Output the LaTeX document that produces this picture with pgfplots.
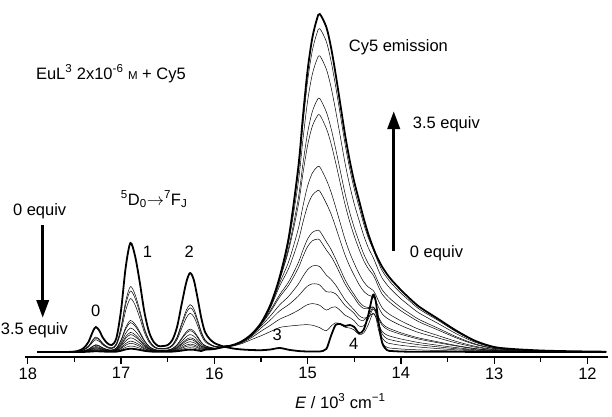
\documentclass[border=0pt]{standalone}
\usepackage{pgfplots}
\pgfplotsset{compat=1.18}
\usepackage{pgfplotstable}
\usepackage{fontspec}
\setmainfont{Liberation Sans}
\usetikzlibrary{arrows.meta}

% x = E / 10^3 cm^-1 ; T0 = 0 equiv (thick), c1..c12 = intermediate titration spectra, T35 = 3.5 equiv (thick)
\pgfplotstableread{
x T0 c1 c2 c3 c4 c5 c6 c7 c8 c9 c10 c11 c12 T35
17.9 0 0 0 0 0 0 0 0 0 0 0 0 0 0
17.6 0 0 0 0 0 0 0 0 0 0 0 0 0 0
17.5 0.5 0.3 0.3 0.2 0.1 0.1 0.1 0.1 0.1 0.1 0.1 0 0 0
17.45 1.5 0.9 0.8 0.7 0.4 0.4 0.3 0.3 0.2 0.2 0.2 0.1 0.1 0
17.4 4 2.4 2.2 2.0 1.2 1.1 0.9 0.7 0.6 0.5 0.4 0.3 0.2 0.1
17.35 10 6 5.6 4.9 2.9 2.7 2.2 1.8 1.6 1.3 1 0.8 0.6 0.3
17.3 21 12.6 11.8 10.3 6.1 5.7 4.6 3.8 3.4 2.7 2.1 1.7 1.2 0.6
17.27 25 15 14 12.3 7.3 6.8 5.5 4.5 4 3.3 2.5 2 1.4 0.8
17.23 21 12.6 11.8 10.3 6.1 5.7 4.6 3.8 3.4 2.7 2.1 1.7 1.2 0.6
17.2 15 9 8.4 7.4 4.4 4.1 3.3 2.7 2.4 2 1.5 1.2 0.8 0.5
17.15 9 5.4 5 4.4 2.6 2.4 2 1.6 1.4 1.2 0.9 0.7 0.5 0.3
17.1 7 4.2 3.9 3.4 2 1.9 1.5 1.3 1.1 0.9 0.7 0.6 0.4 0.2
17.05 14 8.4 7.8 6.9 4.1 3.8 3.1 2.5 2.2 1.8 1.4 1.1 0.8 0.4
17.0 42 25.2 23.5 20.6 12.2 11.3 9.2 7.6 6.7 5.5 4.2 3.4 2.3 1.3
16.95 85 51 47.6 41.7 24.7 23 18.7 15.3 13.6 11.1 8.5 6.8 4.7 2.6
16.9 109 65.4 61 53.4 31.6 29.4 24 19.6 17.4 14.2 10.9 8.7 6 3.3
16.85 96 57.6 53.8 47 27.8 25.9 21.1 17.3 15.4 12.5 9.6 7.7 5.3 2.9
16.8 70 42 39.2 34.3 20.3 18.9 15.4 12.6 11.2 9.1 7 5.6 3.9 2.1
16.75 40 24 22.4 19.6 11.6 10.8 8.8 7.2 6.4 5.2 4 3.2 2.2 1.2
16.7 20 12 11.2 9.8 5.8 5.4 4.4 3.6 3.2 2.6 2 1.6 1.1 0.6
16.65 10 6 5.6 4.9 2.9 2.7 2.2 1.8 1.6 1.3 1 0.8 0.6 0.3
16.6 6 3.6 3.4 2.9 1.7 1.6 1.3 1.1 1 0.8 0.6 0.5 0.3 0.2
16.55 6 3.6 3.4 2.9 1.7 1.6 1.3 1.1 1 0.8 0.6 0.5 0.3 0.2
16.5 7 4.2 3.9 3.4 2 1.9 1.5 1.3 1.1 0.9 0.7 0.6 0.4 0.2
16.45 12 7.2 6.7 5.9 3.5 3.2 2.6 2.2 1.9 1.6 1.2 1 0.7 0.4
16.4 25 15 14 12.3 7.3 6.8 5.5 4.5 4 3.3 2.5 2 1.4 0.8
16.35 48 28.8 26.9 23.5 13.9 13 10.6 8.6 7.7 6.2 4.8 3.8 2.6 1.4
16.3 70 42 39.2 34.3 20.3 18.9 15.4 12.6 11.2 9.1 7 5.6 3.9 2.1
16.26 79 47.4 44.2 38.7 22.9 21.3 17.4 14.2 12.6 10.3 7.9 6.3 4.3 2.4
16.22 72 43.2 40.3 35.3 20.9 19.4 15.8 13 11.5 9.4 7.2 5.8 4 2.2
16.18 54 32.4 30.2 26.5 15.7 14.6 11.9 9.7 8.6 7 5.4 4.3 3 1.6
16.14 34 20.4 19 16.7 9.9 9.2 7.5 6.1 5.4 4.4 3.4 2.7 1.9 1
16.1 20 12.3 11.6 10.3 6.5 6.3 5.4 4.8 4.5 4.1 3.5 3.2 2.8 2.3
16.05 13 8.2 7.9 7.2 4.8 4.7 4.2 3.8 3.7 3.6 3.2 3.1 2.9 2.6
16.0 9 5.9 5.8 5.4 3.8 3.9 3.6 3.5 3.5 3.6 3.3 3.3 3.2 3.0
15.95 7 5.1 5.2 5.1 4 4.3 4 4.3 4.3 4.4 4.3 4.3 4.1 3.9
15.9 5.5 4.9 5.3 5.5 4.9 5.3 5.2 5.6 5.7 5.9 5.7 5.6 5.4 5.0
15.8 3.5 6.0 6.4 6.7 6.8 7.0 7.0 7.1 7.1 7.1 7.1 7.0 7.0 7.0
15.7 2.5 8.6 9.4 10.0 10.3 10.6 10.7 10.8 10.9 10.9 10.9 10.9 11 11
15.6 2 12.5 14.5 15.8 16.5 17 17.2 17.4 17.5 17.6 17.7 17.8 17.9 18
15.5 1.8 16.2 20.8 24 26 27.3 27.6 28 28.2 28.4 28.6 28.8 28.9 29
15.4 2.5 20.4 26.6 32 36 40 41.5 44 45 45.6 46 46.4 46.8 47
15.3 4 24.5 32.8 41.1 47.1 55 57.3 66 69 72 73 74 74.5 75
15.2 2.2 25.9 36.9 47.6 56.1 67.2 70.7 84.3 91.3 103 105.8 111.5 114.5 116
15.1 1 26.8 41.7 55.9 67.9 84 89.3 111.1 123.3 146.9 153.7 169.9 179.8 185
15.05 0.7 27.2 44.8 61.3 75.7 95.5 102 129.9 146 178.7 188.5 212.8 227.9 236
15.0 0.5 27.3 47.4 66 82.4 105.5 113.1 146.4 166.1 206.9 219.5 251.2 271.2 282
14.95 0.5 26.8 48.4 68.2 86 111.2 119.6 156.7 178.9 225.7 240.3 277.7 301.3 314
14.9 0.5 25.4 47.7 68 86.4 112.8 121.6 161 184.7 235.4 251.5 292.6 318.8 333
14.87 0.5 24.3 46.7 67 85.4 112 120.9 160.9 185.1 237.1 253.6 296.2 323.4 338
14.8 3 21.2 41.9 60.3 77 102.1 110.4 148.7 172.3 223.7 240.1 283 310.5 325
14.75 16 25.8 44.2 60.1 72.7 95.8 102.8 138.3 160.2 208.8 224.1 265.2 291.4 305
14.7 27 29.2 45.1 58.2 67 87.5 93.2 125.1 145 189.5 203.4 241.6 265.8 278
14.65 28 27.6 41.5 52.8 59.7 77.8 82.8 111 128.8 168.7 181.2 215.6 237.4 248
14.6 26 24.8 36.9 46.6 52.4 68.2 72.5 97.3 112.9 148 159 189.4 208.6 218
14.55 27 24 34.5 42.7 46.9 60.8 64.3 86 99.6 130.6 140.1 167 183.9 192
14.5 25 22 31.2 38.5 42 54.3 57.3 76.5 88.5 115.9 124.3 148 162.9 170
14.45 19 17.6 26 32.7 36.5 47.5 50.4 67.7 78.6 103.1 110.8 132.1 145.6 152
14.4 22 18.9 26.1 31.6 33.9 43.6 45.9 60.9 70.3 91.7 98.3 116.8 128.4 134
14.35 37 27.3 33 36.7 35.2 43.4 44.5 57 65 83.3 88.5 104.4 114.2 118
14.3 57 38.8 42.9 44.5 38.4 45.2 45 55.2 61.8 77.4 81.3 95 103.1 105
14.27 51 34.9 38.8 40.5 35.2 41.6 41.6 51.2 57.4 71.9 75.6 88.4 96 98
14.24 30 22.1 26.4 29.3 27.9 34.2 35.1 44.8 50.9 65.1 69.2 81.5 89.1 92
14.2 9 9.2 14 17.9 20.4 26.6 28.3 38 44.1 57.7 62 73.7 81.2 85
14.15 2 4.7 9.4 13.4 17 22.9 24.7 33.9 39.6 52.4 56.5 67.4 74.4 78
14.1 1 3.8 8.2 12 15.4 20.8 22.6 31.1 36.4 48.2 52 62.1 68.5 72
14.0 0.5 3 6.7 10 13 17.7 19.2 26.5 31.1 41.2 44.5 53.2 58.8 62
13.9 0.3 2.5 5.7 8.5 11.1 15.1 16.4 22.6 26.6 35.3 38.1 45.6 50.5 53
13.8 0.3 2.1 4.9 7.2 9.3 12.7 13.9 19.2 22.5 29.9 32.3 38.7 42.7 45
13.6 0.2 1.5 3.4 5.1 6.7 9.2 10.1 14 16.4 21.9 23.7 28.4 31.5 33
13.4 0.2 1 2.1 3.2 4.3 5.9 6.4 8.9 10.4 13.9 15 18 19.9 21
13.2 0.1 0.5 1.2 1.8 2.3 3.2 3.4 4.8 5.6 7.4 8 9.6 10.6 11
13.0 0.1 0.3 0.6 0.8 1.1 1.5 1.6 2.2 2.6 3.4 3.7 4.4 4.8 5
12.8 0 0.2 0.3 0.5 0.6 0.9 0.9 1.3 1.5 2 2.2 2.6 2.9 3
12.5 0 0.1 0.2 0.2 0.3 0.4 0.4 0.6 0.7 1 1.1 1.3 1.4 1.5
12.2 0 0 0.1 0.1 0.2 0.2 0.2 0.3 0.4 0.5 0.6 0.7 0.8 0.8
11.8 0 0 0 0.1 0.1 0.1 0.1 0.1 0.2 0.2 0.2 0.3 0.3 0.3
}\spec

\begin{document}
\begin{tikzpicture}[font=\fontsize{16.5}{19}\selectfont]
\path[use as bounding box] (-25pt,-59pt) rectangle (587pt,357pt);
\begin{axis}[
  scale only axis, width=583pt, height=357pt,
  xmin=11.78, xmax=18.03, ymin=-5, ymax=352,
  x dir=reverse,
  axis x line=bottom, axis y line=none,
  x axis line style={-, line width=1.2pt},
  xtick={12,13,...,18},
  minor xtick={12.5,13.5,...,17.5},
  tick align=outside,
  major tick length=7pt, minor tick length=5pt,
  every tick/.style={black, line width=1.2pt},
  /pgf/number format/assume math mode=true,
  tick label style={font=\fontsize{16.5}{19}\selectfont},
  xlabel={\textit{E} / 10\textsuperscript{3} cm\textsuperscript{−1}},
  xlabel style={at={(axis description cs:0.541,0)}, anchor=base, yshift=-51pt, inner sep=0pt},
  clip=false,
]
\foreach \c in {c1,c2,c3,c4,c5,c6,c7,c8,c9,c10,c11,c12}{
  \addplot[black, line width=0.5pt, smooth, tension=0.5] table[x=x, y=\c] {\spec};
}
\addplot[black, line width=1.8pt, smooth, tension=0.5] table[x=x, y=T0] {\spec};
\addplot[black, line width=1.8pt, smooth, tension=0.5] table[x=x, y=T35] {\spec};

\draw[line width=3.5pt, -{Triangle[length=18pt, width=12pt]}] (axis cs:17.84,127) -- (axis cs:17.84,34);
\draw[line width=3.5pt, -{Triangle[length=18pt, width=12pt]}] (axis cs:14.077,101) -- (axis cs:14.077,241);

\node[anchor=base west, inner sep=0pt] at (axis cs:17.914,273) {EuL\textsuperscript{3} 2x10\textsuperscript{-6} {\fontsize{11.5}{12}\selectfont M} + Cy5};
\node[anchor=base west, inner sep=0pt] at (axis cs:17.003,147) {\textsuperscript{5}D\textsubscript{0}$\rightarrow$\textsuperscript{7}F\textsubscript{J}};
\node[anchor=base west, inner sep=0pt] at (axis cs:18.16,137) {0 equiv};
\node[anchor=base west, inner sep=0pt] at (axis cs:18.29,18) {3.5 equiv};
\node[anchor=base west, inner sep=0pt] at (axis cs:14.56,301) {Cy5 emission};
\node[anchor=base west, inner sep=0pt] at (axis cs:13.874,224) {3.5 equiv};
\node[anchor=base west, inner sep=0pt] at (axis cs:13.906,95) {0 equiv};
\node[inner sep=0pt] at (axis cs:17.273,41) {0};
\node[inner sep=0pt] at (axis cs:16.716,100) {1};
\node[inner sep=0pt] at (axis cs:16.269,100) {2};
\node[inner sep=0pt] at (axis cs:15.326,17) {3};
\node[inner sep=0pt] at (axis cs:14.506,8) {4};
\end{axis}
\end{tikzpicture}
\end{document}
